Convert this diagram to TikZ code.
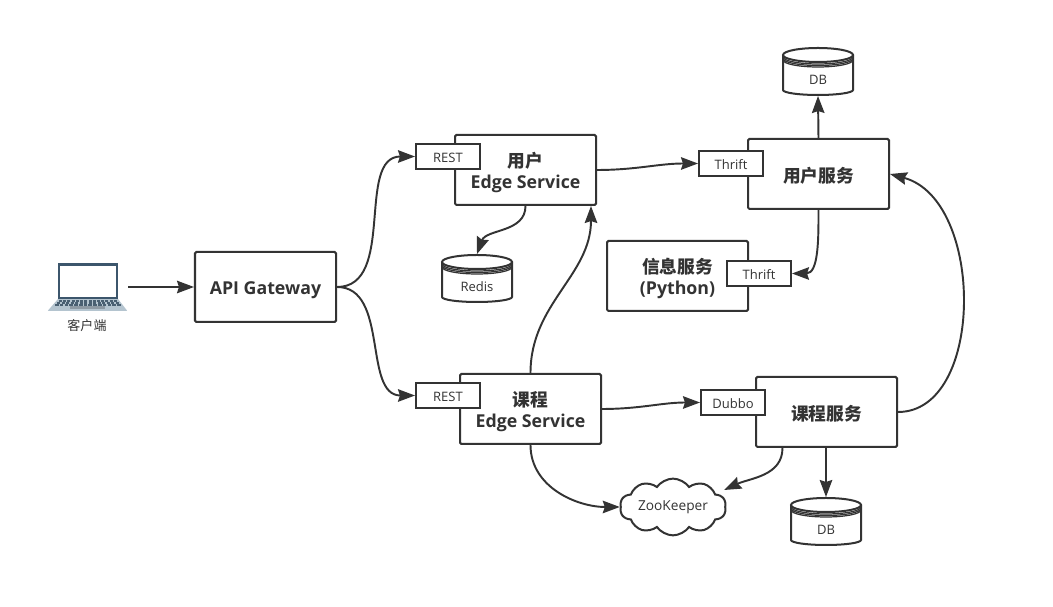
\documentclass[tikz,border=0pt]{standalone}
\usepackage{fontspec}
\setmainfont{Open Sans}
\newfontfamily\cjk{Noto Sans CJK SC}
\usepackage{tikz}
\usetikzlibrary{arrows.meta, positioning, shapes.symbols, calc}
\definecolor{ink}{HTML}{333333}
\definecolor{lapframe}{HTML}{3C566C}
\definecolor{lapbase}{HTML}{B4C4CF}
\definecolor{lapkey}{HTML}{4A6072}
\definecolor{lappad}{HTML}{8E9AA4}

\newcommand{\toppad}{\rule{0pt}{5.6pt}}
\newcommand{\dbnode}[3]{%
  \node[dbbody] (#1) at #2 {};
  \begin{scope}[shift={(#1.center)}]
    \draw[line width=.57pt, ink, fill=white] (-.35,.165) -- (-.35,-.185)
      arc[start angle=180, end angle=360, x radius=.35, y radius=.05] -- (.35,.165);
    \draw[line width=.57pt, ink, fill=white] (0,.165) ellipse[x radius=.35, y radius=.07];
    \foreach \dy in {.02,.035,.05}
      \draw[line width=.35pt, ink] (-.35,.165-\dy)
        arc[start angle=180, end angle=360, x radius=.35, y radius=.07];
  \end{scope}
  \node[font=\fontsize{3.7}{4.4}\selectfont] (#1text) at ([yshift=-.085cm]#1.center) {#3};
}

\begin{document}
\begin{tikzpicture}[>={Stealth[length=.17cm,width=.125cm,inset=.02cm]}, line width=.57pt, ink,
  every node/.style={inner sep=0pt, text=ink},
  box/.style={draw, rounded corners=.4pt, fill=white, minimum width=1.41cm, minimum height=.7cm,
    align=center, font=\fontsize{5.05}{6}\selectfont\bfseries, execute at begin node=\rule{0pt}{5.4pt}},
  tag/.style={draw, fill=white, minimum width=.64cm, minimum height=.25cm, align=center,
    font=\fontsize{3.7}{4.4}\selectfont, execute at begin node=\rule{0pt}{3.6pt}},
  dbbody/.style={minimum width=.7cm, minimum height=.47cm},
  link/.style={->, line width=.55pt}]
  \useasboundingbox (0,0) rectangle (10.53,-6.07);
  \fill[white] (0,0) rectangle (10.53,-6.07);

  % --- client ---
  \node[minimum width=.79cm, minimum height=.48cm] (client) at (.875,-2.87) {};
  \begin{scope}[shift={(client.center)}]
    \fill[lapbase] (-.295,-.12) -- (.305,-.12) -- (.395,-.235) -- (.39,-.24) -- (-.39,-.24) -- (-.395,-.235) -- cycle;
    \fill[lapframe] (-.295,.24) rectangle (.305,-.125);
    \fill[white] (-.275,.21) rectangle (.285,-.105);
    \foreach \row/\ka/\kb in {-.135/-.29/.30, -.155/-.31/.32, -.175/-.33/.34}
      \foreach \k in {0,...,13}
        \fill[lapkey] ({\ka+\k*(\kb-\ka)/14+.005},\row) rectangle ++({(\kb-\ka)/14-.012},-.015);
    \fill[lappad] (-.175,-.195) rectangle (.175,-.22);
  \end{scope}
  \node[font=\fontsize{3.7}{4.4}\selectfont\cjk] (clientlabel) at (.87,-3.26) {客户端};

  % --- gateway and edge services ---
  \node[box] (api) at (2.655,-2.87) {API Gateway};
  \node[box] (ue) at (5.255,-1.70) {\toppad{\cjk 用户}\\Edge Service};
  \node[tag] (rest1) at (4.48,-1.565) {REST};
  \node[box] (ce) at (5.305,-4.09) {\toppad{\cjk 课程}\\Edge Service};
  \node[tag] (rest2) at (4.48,-3.955) {REST};

  % --- services ---
  \node[box] (us) at (8.185,-1.74) {\cjk 用户服务};
  \node[tag] (thrift1) at (7.31,-1.635) {Thrift};
  \node[box] (is) at (6.775,-2.76) {\toppad{\cjk 信息服务}\\(Python)};
  \node[tag] (thrift2) at (7.59,-2.735) {Thrift};
  \node[box] (cs) at (8.265,-4.12) {\cjk 课程服务};
  \node[tag] (dubbo) at (7.33,-4.025) {Dubbo};

  % --- stores ---
  \dbnode{db1}{(8.18,-.715)}{DB}
  \dbnode{redis}{(4.77,-2.785)}{Redis}
  \dbnode{db2}{(8.26,-5.215)}{DB}
  \node[cloud, draw, cloud puffs=10, cloud puff arc=110, aspect=2.3, minimum width=1.06cm, minimum height=.55cm,
    font=\fontsize{3.9}{4.6}\selectfont] (zk) at (6.73,-5.07) {ZooKeeper};

  % --- connectors ---
  \draw[link] (client.east) -- (api.west);
  \draw[link] (api.east) to[out=0, in=180] (rest1.west);
  \draw[link] (api.east) to[out=0, in=180] (rest2.west);
  \draw[link] (ue.east) to[out=0, in=180] (thrift1.west);
  \draw[link] (ce.east) to[out=0, in=180] (dubbo.west);
  \draw[link] (ue.south) to[out=-90, in=70] (redis.north);
  \draw[link] (ce.north) to[out=90, in=-90] ([xshift=-.06cm]ue.south east);
  \draw[link] (us.north) -- (db1.south);
  \draw[link] (us.south) to[out=-90, in=0] (thrift2.east);
  \draw[link] (cs.east) .. controls (9.85,-4.12) and (9.85,-2.0) .. (us.east);
  \draw[link] (ce.south) to[out=-90, in=180] (zk.west);
  \draw[link] ([xshift=-.44cm]cs.south) to[out=-90, in=25] ([xshift=-.02cm,yshift=.17cm]zk.east);
  \draw[link] ([xshift=-.005cm]cs.south) -- (db2.north);
\end{tikzpicture}
\end{document}
